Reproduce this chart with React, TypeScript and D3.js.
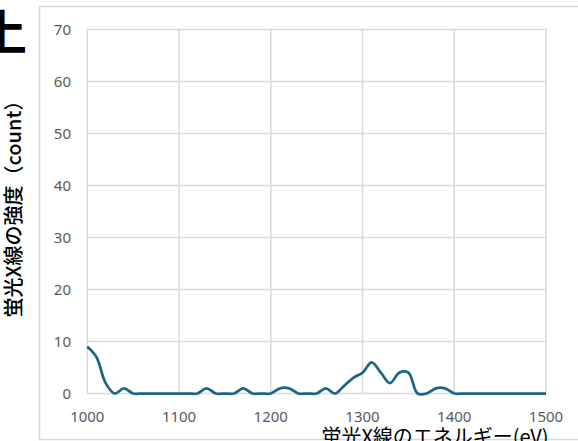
import React from "react";
import * as d3 from "d3";

// energy (eV) and counts
const energy = d3.range(1000, 1501, 10);
const counts = [
  9, 7, 2, 0, 1, 0, 0, 0, 0, 0, // 1000-1090
  0, 0, 0, 1, 0, 0, 0, 1, 0, 0, // 1100-1190
  0, 1, 1, 0, 0, 0, 1, 0, 1.5, 3, // 1200-1290
  4, 6, 4, 2, 4, 4, 0, 0, 1, 1, // 1300-1390
  0, 0, 0, 0, 0, 0, 0, 0, 0, 0, // 1400-1490
  0, // 1500
];
const xTicks = [1000, 1100, 1200, 1300, 1400, 1500];
const yTicks = [0, 10, 20, 30, 40, 50, 60, 70];

const xTitle = "蛍光X線のエネルギー(eV)";
const yTitle = "蛍光X線の強度（count）";

export default function App() {
  const W = 578;
  const H = 441;
  const x = d3.scaleLinear().domain([1000, 1500]).range([87.3, 546]);
  const y = d3.scaleLinear().domain([0, 70]).range([393.5, 29.5]);

  const line = d3
    .line<number>()
    .x((_, i) => x(energy[i]))
    .y((d) => y(d))
    .curve(d3.curveCatmullRom.alpha(0.5));

  const grid = "#d9d9d9";
  const cjkFont = "'Noto Sans CJK JP', 'Noto Sans', sans-serif";
  const tickFont = "'Noto Sans', 'DejaVu Sans', sans-serif";

  return (
    <svg
      width={W}
      height={H}
      style={{ position: "absolute", left: 0, top: 0, background: "#fff" }}
    >
      {/* cropped title glyph at the top-left */}
      <text
        x={-21}
        y={50}
        fontSize={48}
        fontWeight="bold"
        fontFamily={cjkFont}
        fill="#000"
      >
        上
      </text>

      {/* chart area frame */}
      <rect
        x={39.5}
        y={6.5}
        width={W}
        height={433}
        fill="#fff"
        stroke={grid}
        strokeWidth={1.5}
      />

      {/* gridlines */}
      {yTicks.map((t) => (
        <line
          key={"gy" + t}
          x1={x(1000)}
          x2={x(1500)}
          y1={y(t)}
          y2={y(t)}
          stroke={grid}
          strokeWidth={1.5}
        />
      ))}
      {xTicks.map((t) => (
        <line
          key={"gx" + t}
          x1={x(t)}
          x2={x(t)}
          y1={y(0)}
          y2={y(70)}
          stroke={grid}
          strokeWidth={1.5}
        />
      ))}

      {/* tick labels */}
      {yTicks.map((t) => (
        <text
          key={"ly" + t}
          x={71}
          y={y(t)}
          dy="0.36em"
          textAnchor="end"
          fontSize={15}
          fontFamily={tickFont}
          fill="#595959"
        >
          {t}
        </text>
      ))}
      {xTicks.map((t) => (
        <text
          key={"lx" + t}
          x={x(t)}
          y={417}
          dy="0.36em"
          textAnchor="middle"
          fontSize={15}
          fontFamily={tickFont}
          fill="#595959"
        >
          {t}
        </text>
      ))}

      {/* data line */}
      <path
        d={line(counts) || ""}
        fill="none"
        stroke="#1b6586"
        strokeWidth={2.75}
        strokeLinejoin="round"
      />

      {/* axis titles */}
      <text
        transform={`translate(21,204) rotate(-90)`}
        textAnchor="middle"
        fontSize={20}
        fontWeight={500}
        fontFamily={cjkFont}
        fill="#000"
      >
        {yTitle}
      </text>
      <text
        x={435}
        y={444}
        textAnchor="middle"
        fontSize={20}
        fontFamily={cjkFont}
        fill="#000"
      >
        {xTitle}
      </text>
    </svg>
  );
}
